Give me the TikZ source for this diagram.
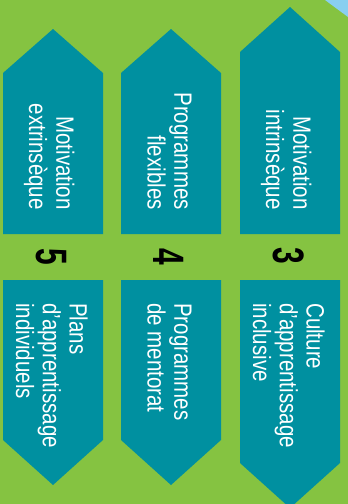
\documentclass[tikz,border=0pt]{standalone}
\usepackage{fontspec}
\setmainfont{Liberation Sans}[FakeStretch=0.82]
\newfontfamily\numfont{Liberation Sans Bold}[FakeStretch=0.68]
\definecolor{bggreen}{RGB}{133,195,65}
\definecolor{tealbox}{RGB}{0,144,160}
\definecolor{skyblue}{RGB}{137,207,240}
\begin{document}
\begin{tikzpicture}[x=1pt,y=-1pt,
  tealshape/.style={fill=tealbox},
  boxtext/.style={text=white, rotate=-90, inner sep=0pt, font=\fontsize{25}{25.5}\selectfont},
  toptext/.style={boxtext, align=right, anchor=east},
  bottext/.style={boxtext, align=left, anchor=west},
  numtext/.style={rotate=-90, inner sep=0pt, text=black, font=\numfont\fontsize{44}{44}\selectfont}]
\fill[bggreen] (0,0) rectangle (348,504);
\useasboundingbox (0,0) rectangle (348,504);
\fill[skyblue] (325,0) -- (348,0) -- (348,17) -- cycle;
% column 1
\fill[tealshape] (3,234) -- (3,73) -- (53,29) -- (103,73) -- (103,234) -- cycle;
\fill[tealshape] (3,280) -- (103,280) -- (103,440) -- (53,485) -- (3,440) -- cycle;
% column 2
\fill[tealshape] (121,234) -- (121,73) -- (171,29) -- (221,73) -- (221,234) -- cycle;
\fill[tealshape] (121,280) -- (221,280) -- (221,440) -- (171,485) -- (121,440) -- cycle;
% column 3
\fill[tealshape] (240,234) -- (240,52) -- (290,7) -- (340,52) -- (340,234) -- cycle;
\fill[tealshape] (240,280) -- (340,280) -- (340,463) -- (290,508) -- (240,463) -- cycle;
% texts
\node[toptext] (t1) at (48,210) {\strut Motivation\\\strut extrinsèque};
\node[toptext] (t2) at (166,210) {\strut Programmes\\\strut flexibles};
\node[toptext] (t3) at (285,210) {\strut Motivation\\\strut intrinsèque};
\node[bottext] (b1) at (48,303) {\strut Plans\\\strut d’apprentissage\\\strut individuels};
\node[bottext] (b2) at (166,303) {\strut Programmes\\\strut de mentorat};
\node[bottext] (b3) at (285,303) {\strut Culture\\\strut d’apprentissage\\\strut inclusive};
% numbers
\node[numtext] (n5) at (51,257) {5};
\node[numtext] (n4) at (169,257) {4};
\node[numtext] (n3) at (288.5,256) {3};
\end{tikzpicture}
\end{document}
